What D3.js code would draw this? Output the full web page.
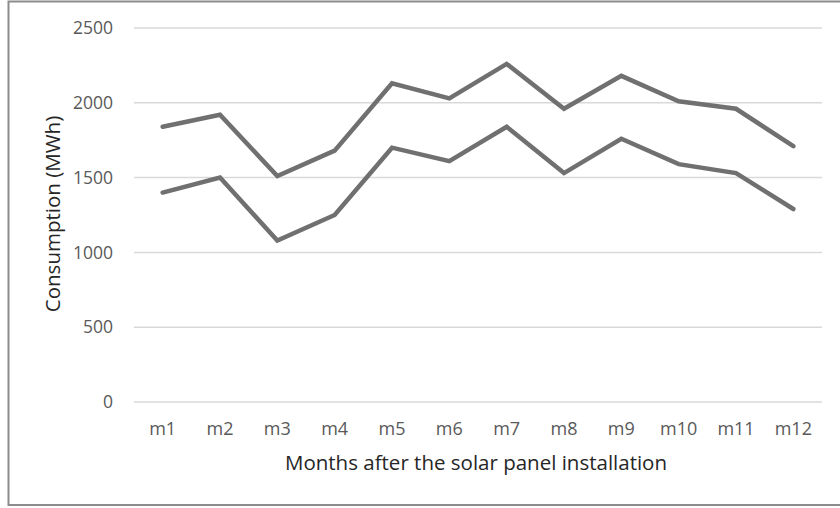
<!DOCTYPE html>
<html>
<head>
<meta charset="utf-8">
<script src="https://cdnjs.cloudflare.com/ajax/libs/d3/7.8.5/d3.min.js"></script>
<style>
  body { margin: 0; background: #fff; }
  svg text { font-family: "Open Sans", "Noto Sans", sans-serif; }
</style>
</head>
<body>
<div id="chart"></div>
<script>
// data
var months = ["m1","m2","m3","m4","m5","m6","m7","m8","m9","m10","m11","m12"];
var upper = [1840, 1920, 1510, 1680, 2130, 2030, 2260, 1960, 2180, 2010, 1960, 1710];
var lower = [1400, 1500, 1080, 1250, 1700, 1610, 1840, 1530, 1760, 1590, 1530, 1290];
var yTicks = [0, 500, 1000, 1500, 2000, 2500];

var W = 840, H = 508;
var margin = {left: 134, right: 18, top: 28, bottom: 106};

var svg = d3.select("#chart").append("svg")
    .attr("width", W)
    .attr("height", H);

// outer frame (right edge runs off the picture)
svg.append("rect")
    .attr("x", 8.5).attr("y", 1.5)
    .attr("width", W).attr("height", 503.5)
    .attr("fill", "none")
    .attr("stroke", "#8c8c8c")
    .attr("stroke-width", 2);

var x = d3.scaleBand()
    .domain(months)
    .range([margin.left, W - margin.right]);

var y = d3.scaleLinear()
    .domain([0, 2500])
    .range([H - margin.bottom, margin.top]);

// gridlines
svg.append("g").selectAll("line")
    .data(yTicks).enter().append("line")
    .attr("x1", margin.left).attr("x2", W - margin.right)
    .attr("y1", function(d) { return y(d); })
    .attr("y2", function(d) { return y(d); })
    .attr("stroke", "#d9d9d9")
    .attr("stroke-width", 1.5);

// y tick labels
svg.append("g").selectAll("text")
    .data(yTicks).enter().append("text")
    .attr("x", 113)
    .attr("y", function(d) { return y(d); })
    .attr("dy", "0.35em")
    .attr("text-anchor", "end")
    .attr("font-size", 17.5)
    .attr("fill", "#595959")
    .text(function(d) { return d; });

// x tick labels
svg.append("g").selectAll("text")
    .data(months).enter().append("text")
    .attr("x", function(d) { return x(d) + x.bandwidth() / 2; })
    .attr("y", 429)
    .attr("dy", "0.35em")
    .attr("text-anchor", "middle")
    .attr("font-size", 18)
    .attr("fill", "#595959")
    .text(function(d) { return d; });

var line = d3.line()
    .x(function(d, i) { return x(months[i]) + x.bandwidth() / 2; })
    .y(function(d) { return y(d); });

[upper, lower].forEach(function(s) {
    svg.append("path")
        .datum(s)
        .attr("d", line)
        .attr("fill", "none")
        .attr("stroke", "#707070")
        .attr("stroke-width", 4.5)
        .attr("stroke-linecap", "round");
});

// axis titles
svg.append("text")
    .attr("x", 476).attr("y", 463)
    .attr("dy", "0.35em")
    .attr("text-anchor", "middle")
    .attr("font-size", 20.5)
    .attr("fill", "#262626")
    .text("Months after the solar panel installation");

svg.append("text")
    .attr("transform", "translate(53," + 214 + ") rotate(-90)")
    .attr("dy", "0.35em")
    .attr("text-anchor", "middle")
    .attr("font-size", 20.5)
    .attr("fill", "#262626")
    .text("Consumption (MWh)");
</script>
</body>
</html>
